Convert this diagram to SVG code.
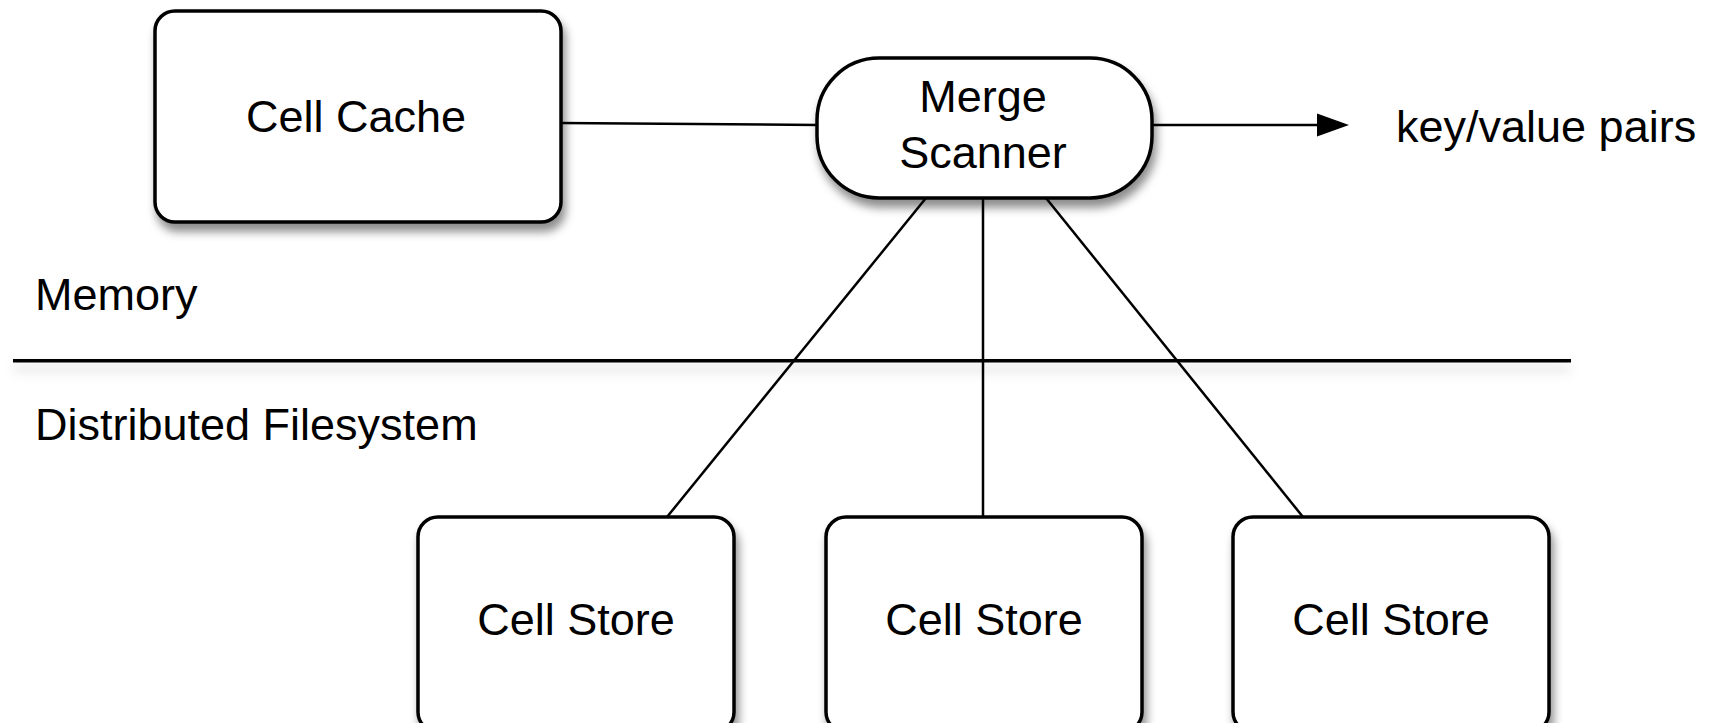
<svg xmlns="http://www.w3.org/2000/svg" width="1712" height="723" viewBox="0 0 1712 723">
<style>
.box{fill:#fff;stroke:#000;stroke-width:3.5;filter:url(#sh)}
.conn{stroke:#000;stroke-width:2.5;fill:none}
.t{font-family:"Liberation Sans",Arial,sans-serif;font-size:45px;fill:#000}
.c{text-anchor:middle}
</style>
<defs>
<filter id="sh" x="-20%" y="-20%" width="140%" height="150%">
<feDropShadow dx="3" dy="8" stdDeviation="5" flood-color="#000" flood-opacity="0.45"/>
</filter>
<filter id="shl" filterUnits="userSpaceOnUse" x="0" y="330" width="1712" height="60">
<feDropShadow dx="0" dy="8" stdDeviation="6" flood-color="#000" flood-opacity="0.2"/>
</filter>
</defs>
<rect width="1712" height="723" fill="#fff"/>
<g id="connectors">
<line class="conn" x1="560" y1="123" x2="818" y2="125"/>
<line class="conn" x1="926" y1="198" x2="667" y2="517"/>
<line class="conn" x1="983" y1="198" x2="983" y2="517"/>
<line class="conn" x1="1046" y1="198" x2="1303" y2="517"/>
<line class="conn" x1="1151" y1="125" x2="1320" y2="125"/>
<path d="M1317,113.5 L1349,125 L1317,136.5 Z" fill="#000"/>
<rect x="13" y="359" width="1558" height="3.5" fill="#000" filter="url(#shl)"/>
</g>
<g id="cell-cache">
<rect class="box" x="155" y="11" width="406" height="211" rx="20"/>
<text class="t c" x="356" y="132">Cell Cache</text>
</g>
<g id="merge-scanner">
<rect class="box" x="817" y="58" width="335" height="140" rx="62"/>
<text class="t c" x="983" y="112">Merge</text>
<text class="t c" x="983" y="168">Scanner</text>
</g>
<g id="key-value">
<text class="t" x="1396" y="142">key/value pairs</text>
</g>
<g id="memory-label">
<text class="t" x="35" y="310">Memory</text>
</g>
<g id="dfs-label">
<text class="t" x="35" y="440">Distributed Filesystem</text>
</g>
<g id="cell-store-1">
<rect class="box" x="418" y="517" width="316" height="215" rx="20"/>
<text class="t c" x="576" y="635">Cell Store</text>
</g>
<g id="cell-store-2">
<rect class="box" x="826" y="517" width="316" height="215" rx="20"/>
<text class="t c" x="984" y="635">Cell Store</text>
</g>
<g id="cell-store-3">
<rect class="box" x="1233" y="517" width="316" height="215" rx="20"/>
<text class="t c" x="1391" y="635">Cell Store</text>
</g>
</svg>
